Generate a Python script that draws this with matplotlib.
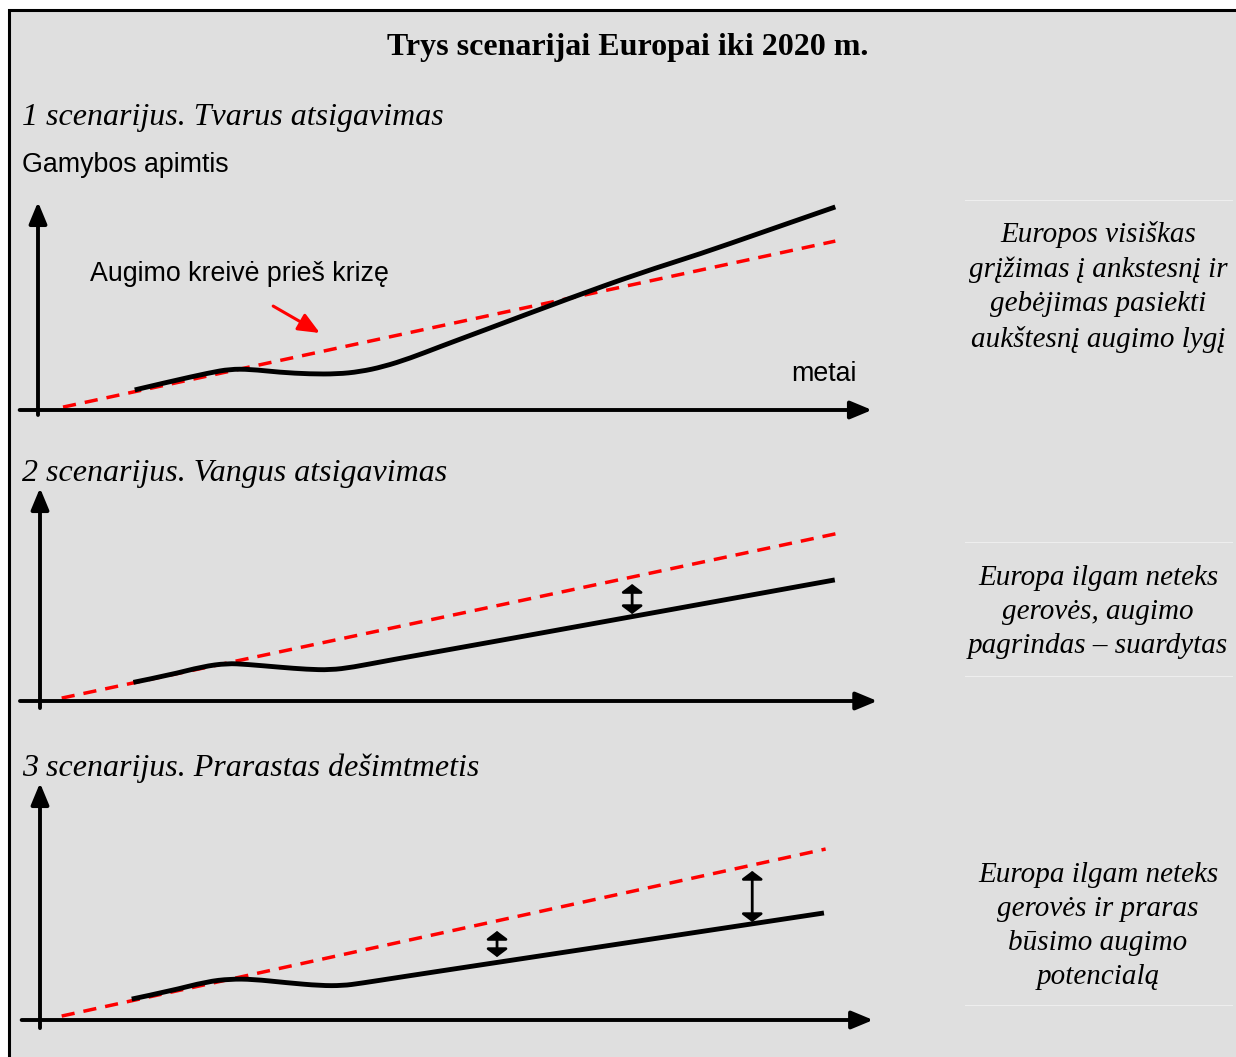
import matplotlib
matplotlib.use('Agg')
import matplotlib.pyplot as plt
from matplotlib.patches import Rectangle, PathPatch
from matplotlib.path import Path

W, H = 1236, 1057
SERIF = 'Liberation Serif'
SANS = 'Liberation Sans'

title = 'Trys scenarijai Europai iki 2020 m.'
subtitles = ['1 scenarijus. Tvarus atsigavimas',
             '2 scenarijus. Vangus atsigavimas',
             '3 scenarijus. Prarastas dešimtmetis']
notes = ['Europos visiškas\ngrįžimas į ankstesnį ir\ngebėjimas pasiekti\naukštesnį augimo lygį',
         'Europa ilgam neteks\ngerovės, augimo\npagrindas – suardytas',
         'Europa ilgam neteks\ngerovės ir praras\nbūsimo augimo\npotencialą']
y_label = 'Gamybos apimtis'
x_label = 'metai'
trend_label = 'Augimo kreivė prieš krizę'

# pre-crisis trend (start, end) per scenario
trend_x = [[3.0, 95.6], [2.6, 95.9], [2.6, 94.2]]
trend_y = [[1.4, 81.6], [1.4, 81.2], [1.9, 82.6]]

# output after crisis
s1_x = [11.6, 15.8, 20.6, 23.0, 25.4, 29.0, 32.6, 35.9, 38.6, 41.4, 44.6, 48.2, 53.0, 63.8, 72.2, 79.4, 86.6, 95.6]
s1_y = [9.7, 13.7, 18.0, 19.7, 19.7, 18.2, 17.4, 17.4, 18.5, 20.9, 25.0, 30.6, 37.8, 54.1, 66.2, 75.4, 85.5, 98.1]
s2_x = [11.2, 15.6, 19.5, 22.4, 24.8, 28.8, 32.0, 34.8, 37.5, 41.6, 52.8, 95.3]
s2_y = [9.0, 12.6, 16.6, 18.2, 17.7, 16.3, 15.3, 15.0, 16.3, 19.5, 27.5, 58.5]
s3_x = [11.0, 15.6, 20.0, 22.8, 25.5, 29.6, 33.6, 36.3, 38.4, 43.5, 52.8, 94.0]
s3_y = [10.1, 14.0, 18.5, 19.8, 19.7, 18.0, 16.6, 16.6, 17.7, 20.9, 26.6, 51.7]
curves_x = [s1_x, s2_x, s3_x]
curves_y = [s1_y, s2_y, s3_y]

# gap arrows (x, low, high)
gaps = [[], [(71.0, 42.0, 56.5)], [(54.8, 30.4, 43.0), (85.4, 47.3, 72.0)]]

# axis extents: x from, x to, y from, y to
axis_ext = [(-2.2, 100.0, -2.4, 100.5), (-2.4, 100.4, -3.4, 102.9), (-2.2, 99.9, -3.9, 114.5)]

# layout in pixels
origins = [(38, 410), (40, 701), (40, 1020)]
sub_y = [117, 474, 768]
note_y = [287, 612, 926]
SX, SY = 8.34, 2.07


def smooth_path(xs, ys):
    # quadratic bezier through midpoints, data points act as control points
    pts = list(zip(xs, ys))
    verts = [pts[0]]
    codes = [Path.MOVETO]
    for k in range(1, len(pts) - 1):
        mx = (pts[k][0] + pts[k + 1][0]) / 2
        my = (pts[k][1] + pts[k + 1][1]) / 2
        verts += [pts[k], (mx, my)]
        codes += [Path.CURVE3, Path.CURVE3]
    verts.append(pts[-1])
    codes.append(Path.LINETO)
    return Path(verts, codes)


fig = plt.figure(figsize=(W / 100, H / 100), dpi=100)
fig.patch.set_facecolor('white')

bg = fig.add_axes([0, 0, 1, 1])
bg.set_xlim(0, W)
bg.set_ylim(H, 0)
bg.axis('off')
bg.add_patch(Rectangle((9, 10), 1400, 1200, facecolor='#dfdfdf', edgecolor='black', lw=2.2))
# faint table cell lines
for yy, xa, xb in [(200, 965, 1232), (542, 965, 1232), (676, 965, 1232), (1005, 965, 1232)]:
    bg.plot([xa, xb], [yy, yy], color='#eeeeee', lw=0.8)

bg.text(628, 47, title, ha='center', va='center', fontsize=23, fontweight='bold', family=SERIF)
for s, yy in zip(subtitles, sub_y):
    bg.text(22, yy, s, ha='left', va='center', fontsize=23, style='italic', family=SERIF)
for n, yy in zip(notes, note_y):
    bg.text(1098, yy, n, ha='center', va='center', fontsize=21, style='italic', family=SERIF,
            linespacing=1.4)
bg.text(22, 165, y_label, ha='left', va='center', fontsize=19.3, family=SANS)

X0, X1, Y0, Y1 = -6, 106, -8, 120
for i in range(3):
    ox, oy = origins[i]
    left = (ox + X0 * SX) / W
    bottom = 1 - (oy - Y0 * SY) / H
    ax = fig.add_axes([left, bottom, (X1 - X0) * SX / W, (Y1 - Y0) * SY / H])
    ax.set_xlim(X0, X1)
    ax.set_ylim(Y0, Y1)
    ax.axis('off')
    ax.patch.set_alpha(0)

    xa, xb, ya, yb = axis_ext[i]
    ax.annotate('', xy=(xb, 0), xytext=(xa, 0),
                arrowprops=dict(arrowstyle='-|>,head_length=0.65,head_width=0.27', lw=2.8,
                                color='black', shrinkA=0, shrinkB=0, mutation_scale=20))
    ax.annotate('', xy=(0, yb), xytext=(0, ya),
                arrowprops=dict(arrowstyle='-|>,head_length=0.65,head_width=0.27', lw=2.8,
                                color='black', shrinkA=0, shrinkB=0, mutation_scale=20))

    ax.plot(trend_x[i], trend_y[i], color='red', lw=2.5, dashes=(3.8, 2.6), zorder=2)
    ax.add_patch(PathPatch(smooth_path(curves_x[i], curves_y[i]), facecolor='none',
                           edgecolor='black', lw=3.5, capstyle='butt', joinstyle='round', zorder=3))

    for gx, g0, g1 in gaps[i]:
        ax.annotate('', xy=(gx, g1), xytext=(gx, g0),
                    arrowprops=dict(arrowstyle='<|-|>,head_length=0.24,head_width=0.32', lw=2.0,
                                    color='black', shrinkA=0, shrinkB=0, mutation_scale=20))

    if i == 0:
        ax.text(6.2, 65.7, trend_label, ha='left', va='center', fontsize=19.3, family=SANS)
        ax.text(98.1, 17.4, x_label, ha='right', va='center', fontsize=19.3, family=SANS)
        ax.annotate('', xy=(33.8, 37.2), xytext=(28.2, 50.2),
                    arrowprops=dict(arrowstyle='-|>,head_length=0.65,head_width=0.28', lw=2.2,
                                    color='red', shrinkA=0, shrinkB=0, mutation_scale=20))

fig.savefig('out.png', dpi=100, facecolor=fig.get_facecolor())
